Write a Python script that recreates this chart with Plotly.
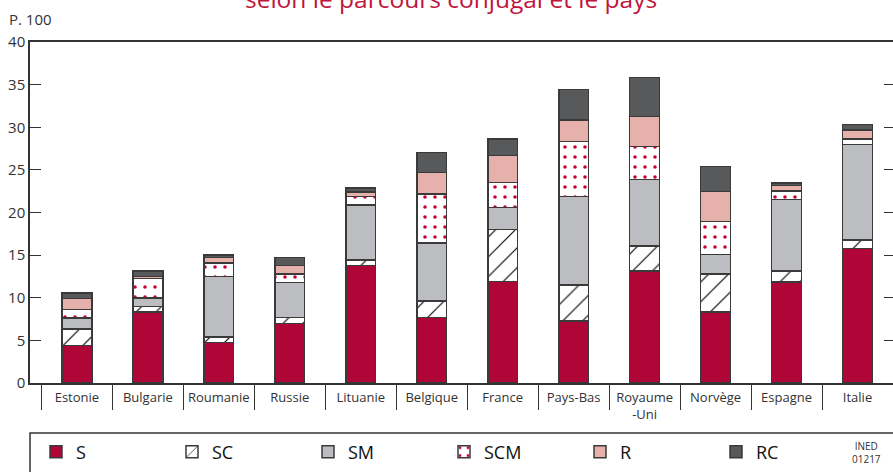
import plotly.graph_objects as go

# data (percent)
countries = ["Estonie", "Bulgarie", "Roumanie", "Russie", "Lituanie", "Belgique",
             "France", "Pays-Bas", "Royaume<br>-Uni", "Norvège", "Espagne", "Italie"]
s_vals = [4.4, 8.3, 4.75, 7.0, 13.8, 7.7, 11.9, 7.3, 13.15, 8.3, 11.85, 15.75]
sc_vals = [1.95, 0.65, 0.65, 0.7, 0.6, 1.9, 6.1, 4.2, 2.95, 4.5, 1.3, 1.0]
sm_vals = [1.25, 1.0, 7.1, 4.1, 6.5, 6.8, 2.6, 10.35, 7.8, 2.3, 8.4, 11.25]
scm_vals = [1.0, 2.3, 1.6, 1.0, 1.0, 5.8, 2.9, 6.5, 3.85, 3.85, 1.0, 0.65]
r_vals = [1.3, 0.27, 0.63, 1.0, 0.5, 2.5, 3.2, 2.5, 3.5, 3.5, 0.6, 1.0]
rc_vals = [0.65, 0.62, 0.3, 0.95, 0.47, 2.35, 1.95, 3.6, 4.6, 2.95, 0.3, 0.65]
y_ticks = [0, 5, 10, 15, 20, 25, 30, 35, 40]

dark = "#333333"
red = "#c0143c"
font = "Open Sans, sans-serif"
outline = dict(color="#3a3a3a", width=1.5)

series = [
    ("S", s_vals, dict(color="#b00637", line=outline)),
    ("SC", sc_vals, dict(color="white", line=outline,
                         pattern=dict(shape="/", fgcolor="#000000", bgcolor="white",
                                      fgopacity=1, size=14, solidity=0.08))),
    ("SM", sm_vals, dict(color="#bcbdc1", line=outline)),
    ("SCM", scm_vals, dict(color="white", line=outline,
                           pattern=dict(shape=".", fgcolor="#c8002e", bgcolor="white",
                                        fgopacity=1, size=10, solidity=0.1))),
    ("R", r_vals, dict(color="#e6b1aa", line=outline)),
    ("RC", rc_vals, dict(color="#58595b", line=outline)),
]

fig = go.Figure()
for name, vals, marker in series:
    fig.add_trace(go.Bar(x=countries, y=vals, name=name, marker=marker, width=0.42))

# invisible trace to carry the right-hand ticks
fig.add_trace(go.Scatter(x=[countries[0]], y=[0], yaxis="y2", mode="markers",
                         marker=dict(opacity=0), showlegend=False, hoverinfo="skip"))

top_px, bottom_px, H = 42, 89, 472
plot_h = H - top_px - bottom_px
left_px, plot_w = 30, 893 - 30


def py(pix):
    # page pixel row -> paper y
    return (H - bottom_px - pix) / plot_h


def px(pix):
    return (pix - left_px) / plot_w


fig.update_layout(
    width=893, height=472,
    margin=dict(l=left_px, r=0, t=top_px, b=bottom_px, autoexpand=False),
    barmode="stack", bargap=0.58,
    plot_bgcolor="white", paper_bgcolor="white",
    font=dict(family=font, size=15, color=dark),
    xaxis=dict(showline=True, linecolor=dark, linewidth=1.5, mirror=True,
               ticks="outside", tickson="boundaries", ticklen=25, tickcolor=dark,
               tickwidth=1, ticklabelstandoff=2, tickangle=0, automargin=False,
               tickfont=dict(family=font, size=13, color=dark), showgrid=False),
    yaxis=dict(range=[0, 40], tickvals=y_ticks, showline=True, linecolor=dark,
               linewidth=1.5, ticks="inside", ticklen=11, tickcolor=dark,
               showgrid=False, zeroline=False, automargin=False,
               tickfont=dict(size=15, color=dark)),
    yaxis2=dict(range=[0, 40], tickvals=y_ticks, overlaying="y", side="right",
                ticks="inside", ticklen=9, tickcolor=dark, showticklabels=False,
                showline=False, showgrid=False, zeroline=False, automargin=False),
    legend=dict(orientation="h", x=px(36), xanchor="left", y=py(452), yanchor="middle",
                traceorder="normal", entrywidth=91, entrywidthmode="pixels",
                font=dict(family=font, size=18, color="#111111"),
                bgcolor="rgba(0,0,0,0)"),
    showlegend=True,
)

# legend frame, running off the bottom/right of the page
fig.add_shape(type="rect", xref="paper", yref="paper",
              x0=0, x1=1.02, y0=py(490), y1=py(433),
              line=dict(color=dark, width=1.5), fillcolor="rgba(0,0,0,0)")

fig.add_annotation(text="selon le parcours conjugal et le pays", xref="paper", yref="paper",
                   x=px(451), y=py(-1), xanchor="center", yanchor="middle",
                   showarrow=False, font=dict(size=24.5, color=red))
fig.add_annotation(text="P. 100", xref="paper", yref="paper",
                   x=px(7), y=py(19), xanchor="left", yanchor="middle",
                   showarrow=False, font=dict(size=15, color=dark))
fig.add_annotation(text="INED<br>01217", xref="paper", yref="paper",
                   x=px(866), y=py(452), xanchor="center", yanchor="middle",
                   showarrow=False, align="center",
                   font=dict(size=10, color=dark))

# the page body has a default 8px margin; drop it so the figure sits at the corner
fig.write_html("out.html", config={"displayModeBar": False},
               post_script="document.body.style.margin='0';")
